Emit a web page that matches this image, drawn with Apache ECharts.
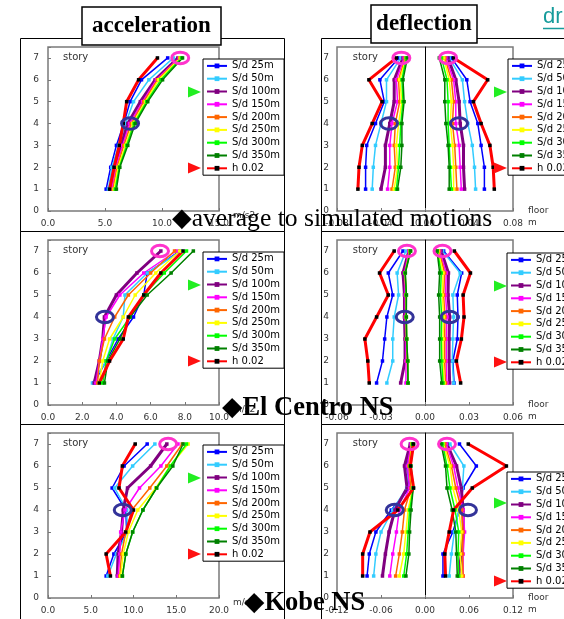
<!DOCTYPE html>
<html><head><meta charset="utf-8">
<script src="https://cdn.jsdelivr.net/npm/echarts@6/dist/echarts.min.js"></script>
<style>html,body{margin:0;padding:0;background:#fff}#c{width:564px;height:619px}</style>
</head><body><div id="c"></div>
<script>
// ---------- data ----------
const stories = [1, 2, 3, 4, 5, 6, 7];
const seriesNames = ['S/d 25m','S/d 50m','S/d 100m','S/d 150m','S/d 200m','S/d 250m','S/d 300m','S/d 350m','h 0.02'];

// acceleration (m/s2), story 1..7, order as seriesNames
const accAverage = [
  [5.1, 5.5, 6.0, 6.65, 7.2, 8.2, 10.5],
  [5.3, 5.6, 6.2, 6.8, 7.5, 8.85, 11.0],
  [5.5, 5.8, 6.4, 7.0, 8.1, 9.4, 11.4],
  [5.6, 5.95, 6.55, 7.15, 8.3, 9.5, 11.5],
  [5.7, 6.05, 6.65, 7.3, 8.4, 9.6, 11.55],
  [5.8, 6.15, 6.8, 7.45, 8.55, 9.7, 11.6],
  [5.9, 6.25, 6.9, 7.55, 8.65, 9.9, 11.7],
  [6.0, 6.3, 7.0, 7.65, 8.75, 10.05, 11.8],
  [5.4, 5.8, 6.25, 6.6, 6.9, 7.95, 9.6]
];
const accElCentro = [
  [2.7, 3.4, 4.1, 5.0, 5.6, 5.8, 7.7],
  [2.6, 3.4, 3.8, 4.4, 4.5, 5.8, 7.8],
  [2.7, 3.0, 3.2, 3.3, 4.0, 5.2, 6.6],
  [2.8, 3.0, 3.2, 3.4, 4.2, 5.6, 7.5],
  [2.9, 3.0, 3.3, 3.9, 4.7, 6.0, 7.4],
  [3.0, 3.2, 3.6, 4.4, 5.1, 6.3, 7.7],
  [3.2, 3.4, 3.9, 4.8, 5.6, 6.8, 8.1],
  [3.3, 3.5, 4.2, 4.8, 5.8, 7.2, 8.5],
  [3.0, 3.6, 4.4, 4.7, 5.6, 6.6, 7.9]
];
const accKobe = [
  [6.8, 7.7, 9.2, 9.1, 7.5, 8.9, 11.6],
  [7.0, 8.0, 9.3, 9.2, 7.8, 9.9, 12.5],
  [8.1, 8.2, 8.6, 8.8, 9.3, 12.0, 13.9],
  [8.2, 8.4, 8.5, 9.0, 10.7, 13.2, 15.2],
  [8.4, 8.6, 9.1, 9.8, 11.9, 13.9, 15.7],
  [8.5, 8.8, 9.4, 10.5, 12.6, 14.3, 16.4],
  [8.7, 9.1, 9.9, 11.1, 12.7, 14.3, 16.2],
  [8.7, 9.1, 9.9, 11.1, 12.7, 14.6, 15.8],
  [7.3, 6.8, 9.1, 10.0, 8.3, 8.7, 10.2]
];

// deflection (m), negative side and positive side, story 1..7
const defAverageNeg = [
  [-0.054, -0.054, -0.053, -0.045, -0.037, -0.041, -0.024],
  [-0.048, -0.047, -0.045, -0.040, -0.035, -0.035, -0.022],
  [-0.040, -0.036, -0.036, -0.032, -0.028, -0.028, -0.020],
  [-0.034, -0.032, -0.032, -0.030, -0.025, -0.026, -0.019],
  [-0.030, -0.027, -0.028, -0.027, -0.023, -0.024, -0.018],
  [-0.028, -0.025, -0.026, -0.024, -0.021, -0.023, -0.017],
  [-0.026, -0.024, -0.023, -0.022, -0.020, -0.021, -0.017],
  [-0.025, -0.022, -0.021, -0.021, -0.019, -0.020, -0.016],
  [-0.061, -0.060, -0.057, -0.048, -0.039, -0.051, -0.026]
];
const defAveragePos = [
  [0.054, 0.054, 0.051, 0.048, 0.041, 0.038, 0.024],
  [0.046, 0.045, 0.043, 0.039, 0.036, 0.034, 0.022],
  [0.036, 0.035, 0.035, 0.032, 0.031, 0.028, 0.021],
  [0.033, 0.032, 0.031, 0.028, 0.028, 0.026, 0.019],
  [0.029, 0.028, 0.027, 0.025, 0.026, 0.024, 0.018],
  [0.026, 0.026, 0.025, 0.023, 0.024, 0.022, 0.017],
  [0.024, 0.023, 0.022, 0.021, 0.021, 0.020, 0.015],
  [0.022, 0.022, 0.021, 0.019, 0.018, 0.018, 0.013],
  [0.063, 0.062, 0.059, 0.051, 0.044, 0.057, 0.026]
];
const defElCentroNeg = [
  [-0.033, -0.029, -0.0275, -0.026, -0.022, -0.025, -0.015],
  [-0.026, -0.022, -0.022, -0.021, -0.018, -0.019, -0.013],
  [-0.0166, -0.0136, -0.0136, -0.014, -0.014, -0.015, -0.011],
  [-0.013, -0.013, -0.013, -0.0135, -0.0135, -0.014, -0.011],
  [-0.0116, -0.012, -0.0127, -0.013, -0.013, -0.0136, -0.0105],
  [-0.0116, -0.0118, -0.0125, -0.0128, -0.0128, -0.0136, -0.010],
  [-0.0116, -0.0118, -0.0125, -0.0128, -0.0127, -0.0136, -0.010],
  [-0.0116, -0.0118, -0.0125, -0.0127, -0.0127, -0.0134, -0.0098],
  [-0.038, -0.039, -0.041, -0.033, -0.025, -0.031, -0.021]
];
const defElCentroPos = [
  [0.0198, 0.019, 0.022, 0.0225, 0.022, 0.025, 0.0127],
  [0.0195, 0.0186, 0.019, 0.0195, 0.019, 0.024, 0.012],
  [0.0168, 0.0164, 0.0164, 0.0168, 0.0157, 0.016, 0.011],
  [0.015, 0.0145, 0.0145, 0.015, 0.014, 0.0145, 0.010],
  [0.014, 0.0134, 0.0134, 0.0136, 0.0127, 0.0134, 0.0095],
  [0.013, 0.0123, 0.0123, 0.0127, 0.0118, 0.0123, 0.0089],
  [0.0123, 0.0114, 0.0111, 0.0114, 0.0105, 0.0111, 0.0084],
  [0.0114, 0.0100, 0.0100, 0.0100, 0.0093, 0.0100, 0.0082],
  [0.0243, 0.0214, 0.0248, 0.0266, 0.026, 0.031, 0.020]
];
const defKobeNeg = [
  [-0.079, -0.076, -0.067, -0.046, -0.021, -0.025, -0.018],
  [-0.070, -0.067, -0.060, -0.044, -0.025, -0.022, -0.019],
  [-0.058, -0.054, -0.049, -0.041, -0.0245, -0.028, -0.020],
  [-0.048, -0.044, -0.039, -0.035, -0.021, -0.024, -0.019],
  [-0.040, -0.035, -0.031, -0.028, -0.019, -0.022, -0.018],
  [-0.035, -0.029, -0.026, -0.023, -0.017, -0.021, -0.018],
  [-0.029, -0.025, -0.023, -0.021, -0.016, -0.020, -0.017],
  [-0.026, -0.022, -0.021, -0.019, -0.016, -0.019, -0.017],
  [-0.085, -0.085, -0.075, -0.037, -0.0155, -0.020, -0.0155]
];
const defKobePos = [
  [0.0245, 0.0245, 0.038, 0.047, 0.052, 0.070, 0.047],
  [0.033, 0.036, 0.040, 0.046, 0.051, 0.053, 0.034],
  [0.046, 0.0495, 0.052, 0.052, 0.0495, 0.043, 0.030],
  [0.052, 0.052, 0.054, 0.052, 0.045, 0.039, 0.029],
  [0.052, 0.051, 0.052, 0.050, 0.042, 0.036, 0.027],
  [0.050, 0.048, 0.050, 0.046, 0.038, 0.034, 0.025],
  [0.046, 0.045, 0.046, 0.041, 0.034, 0.030, 0.024],
  [0.044, 0.043, 0.042, 0.037, 0.030, 0.028, 0.022],
  [0.028, 0.027, 0.033, 0.039, 0.0645, 0.111, 0.059]
];

// axis ranges / ticks
const accMax = [15, 10, 20];
const accStep = [5, 2, 5];
const defMax = [0.08, 0.06, 0.12];
const defStep = [0.04, 0.03, 0.06];

// annotation ring anchors (grid index, x value, story)
const pinkRings = [[0, 11.6, 7], [1, 6.55, 7], [2, 14.05, 7], [3, -0.0215, 7], [3, 0.021, 7], [4, -0.0123, 7], [4, 0.0119, 7], [5, -0.021, 7], [5, 0.030, 7]];
const navyRings = [[0, 7.2, 4], [1, 3.33, 4], [2, 8.74, 4], [3, -0.0327, 4], [3, 0.0309, 4], [4, -0.0138, 4], [4, 0.0168, 4], [5, -0.0413, 4], [5, 0.0586, 4]];

// ---------- styles ----------
const lineColors = ['#0000ff', '#33ccff', '#800080', '#ff00ff', '#ff6600', '#ffff00', '#00ff00', '#008000', '#ff0000'];
const markColors = ['#0000ff', '#33ccff', '#800080', '#ff00ff', '#ff6600', '#ffff00', '#00ff00', '#008000', '#000000'];
const lineWidths = [1.5, 1.5, 3, 1.5, 1.5, 1.5, 1.5, 1.5, 3];

const accSets = [accAverage, accElCentro, accKobe];
const defSets = [[defAverageNeg, defAveragePos], [defElCentroNeg, defElCentroPos], [defKobeNeg, defKobePos]];

const rowTop = [47, 240, 433];
const rowHeight = [164, 165, 165];
const FONT = 'DejaVu Sans';
const labelStyle = { fontFamily: FONT, fontSize: 9, color: '#333' };

const grids = [], xAxes = [], yAxes = [], series = [];
for (let r = 0; r < 3; r++) {
  grids.push({ left: 48, top: rowTop[r], width: 171, height: rowHeight[r], show: true, borderColor: '#7a7a7a', borderWidth: 1.5, backgroundColor: '#fff' });
}
for (let r = 0; r < 3; r++) {
  grids.push({ left: 337, top: rowTop[r], width: 176, height: rowHeight[r], show: true, borderColor: '#7a7a7a', borderWidth: 1.5, backgroundColor: '#fff' });
}
const intLabel = v => (Math.abs(v - Math.round(v)) < 1e-6 ? String(Math.round(v)) : '');
for (let r = 0; r < 3; r++) {
  xAxes.push({ type: 'value', gridIndex: r, min: 0, max: accMax[r], interval: accStep[r],
    axisLine: { show: false }, splitLine: { show: false },
    axisTick: { show: true, inside: true, length: 3, lineStyle: { color: '#777' } },
    axisLabel: { ...labelStyle, margin: 8, formatter: v => v.toFixed(1) },
    name: 'm/s2', nameLocation: 'end', nameGap: 14,
    nameTextStyle: { fontFamily: FONT, fontSize: 9, color: '#333', align: 'left', verticalAlign: 'top', lineHeight: 10 } });
  yAxes.push({ type: 'value', gridIndex: r, min: 0, max: 7.5, interval: 1,
    axisLine: { show: false }, splitLine: { show: false },
    axisTick: { show: true, inside: true, length: 3, lineStyle: { color: '#777' } },
    axisLabel: { ...labelStyle, margin: 9, formatter: intLabel },
    name: 'story', nameLocation: 'end', nameGap: -10,
    nameTextStyle: { fontFamily: FONT, fontSize: 10, color: '#333', align: 'left', verticalAlign: 'middle', padding: [0, 0, 0, 15] } });
}
for (let r = 0; r < 3; r++) {
  xAxes.push({ type: 'value', gridIndex: 3 + r, min: -defMax[r], max: defMax[r], interval: defStep[r],
    axisLine: { show: false }, splitLine: { show: false },
    axisTick: { show: true, inside: true, length: 3, lineStyle: { color: '#777' } },
    axisLabel: { ...labelStyle, margin: 8, formatter: v => v.toFixed(2) },
    name: '\nfloor\nm', nameLocation: 'end', nameGap: 15,
    nameTextStyle: { fontFamily: FONT, fontSize: 9, color: '#333', align: 'left', verticalAlign: 'middle', lineHeight: 12 } });
  yAxes.push({ type: 'value', gridIndex: 3 + r, min: 0, max: 7.5, interval: 1,
    axisLine: { show: true, onZero: true, lineStyle: { color: '#000', width: 1 } }, splitLine: { show: false },
    axisTick: { show: false },
    axisLabel: { ...labelStyle, margin: 8, formatter: intLabel },
    name: 'story', nameLocation: 'end', nameGap: -10,
    nameTextStyle: { fontFamily: FONT, fontSize: 10, color: '#333', align: 'right', verticalAlign: 'middle', padding: [0, 47, 0, 0] } });
}

function makeSeries(i, axisIdx, vals) {
  return {
    type: 'line', name: seriesNames[i], xAxisIndex: axisIdx, yAxisIndex: axisIdx,
    data: stories.map((s, k) => [vals[k], s]),
    symbol: 'rect', symbolSize: 3.5, showSymbol: true,
    lineStyle: { color: lineColors[i], width: lineWidths[i] },
    itemStyle: { color: markColors[i] },
    emphasis: { disabled: true }, silent: true
  };
}
for (let r = 0; r < 3; r++) {
  for (let i = 0; i < 9; i++) series.push(makeSeries(i, r, accSets[r][i]));
}
for (let r = 0; r < 3; r++) {
  for (let i = 0; i < 9; i++) {
    series.push(makeSeries(i, 3 + r, defSets[r][0][i]));
    series.push(makeSeries(i, 3 + r, defSets[r][1][i]));
  }
}

function legendAt(left, top) {
  return { orient: 'vertical', left: left, top: top, data: seriesNames, selectedMode: false,
    backgroundColor: '#fff', borderColor: '#000', borderWidth: 1, borderRadius: 0,
    padding: [1, 4, 1, 3], itemWidth: 20, itemHeight: 6, itemGap: 1,
    textStyle: { fontFamily: FONT, fontSize: 10, color: '#000', lineHeight: 11.8 } };
}
const legends = [legendAt(203, 59), legendAt(203, 252), legendAt(203, 445),
                 legendAt(508, 59), legendAt(507, 253), legendAt(507, 472)];

// ---------- decorations ----------
const deco = [];
const frameStyle = { fill: 'none', stroke: '#000', lineWidth: 1 };
[[38.5, 193], [231.5, 193], [424.5, 200]].forEach(([y, h]) => {
  deco.push({ type: 'rect', shape: { x: 20.5, y: y, width: 264, height: h }, style: frameStyle, z: 0, silent: true });
  deco.push({ type: 'rect', shape: { x: 321.5, y: y, width: 260, height: h }, style: frameStyle, z: 0, silent: true });
});
deco.push({ type: 'rect', shape: { x: 82, y: 7, width: 139, height: 38 }, style: { fill: '#fff', stroke: '#000', lineWidth: 1.5 }, z: 20, silent: true });
deco.push({ type: 'text', x: 151.5, y: 26.5, z: 21, silent: true,
  style: { text: 'acceleration', fontFamily: '"Liberation Serif", "DejaVu Serif", serif', fontWeight: 'bold', fontSize: 23, fill: '#000', align: 'center', verticalAlign: 'middle' } });
deco.push({ type: 'rect', shape: { x: 371, y: 5, width: 106, height: 38 }, style: { fill: '#fff', stroke: '#000', lineWidth: 1.5 }, z: 20, silent: true });
deco.push({ type: 'text', x: 424, y: 24, z: 21, silent: true,
  style: { text: 'deflection', fontFamily: '"Liberation Serif", "DejaVu Serif", serif', fontWeight: 'bold', fontSize: 23, fill: '#000', align: 'center', verticalAlign: 'middle' } });
deco.push({ type: 'text', x: 543, y: 17, z: 21, silent: true,
  style: { text: 'dr', fontFamily: '"Liberation Sans", Arial, sans-serif', fontSize: 22, fill: '#169b9b', align: 'left', verticalAlign: 'middle' } });
deco.push({ type: 'line', shape: { x1: 543, y1: 28.5, x2: 564, y2: 28.5 }, style: { stroke: '#169b9b', lineWidth: 1.5 }, z: 21, silent: true });

deco.push({ type: 'text', x: 172, y: 219.5, z: 30, silent: true,
  style: { text: '\u25C6average to simulated motions', fontFamily: '"Liberation Serif", "DejaVu Serif", serif', fontSize: 25.6, fill: '#000', align: 'left', verticalAlign: 'middle' } });
deco.push({ type: 'text', x: 222, y: 408.5, z: 30, silent: true,
  style: { text: '\u25C6El Centro NS', fontFamily: '"Liberation Serif", "DejaVu Serif", serif', fontWeight: 'bold', fontSize: 26.5, fill: '#000', align: 'left', verticalAlign: 'middle' } });
deco.push({ type: 'text', x: 244, y: 603, z: 30, silent: true,
  style: { text: '\u25C6Kobe NS', fontFamily: '"Liberation Serif", "DejaVu Serif", serif', fontWeight: 'bold', fontSize: 26.5, fill: '#000', align: 'left', verticalAlign: 'middle' } });

function tri(x, y, color) {
  return { type: 'polygon', shape: { points: [[x, y - 5.5], [x, y + 5.5], [x + 13, y]] }, style: { fill: color }, z: 25, silent: true };
}
[92, 285, 478].forEach(y => deco.push(tri(188, y, '#22ee22')));
[168, 361, 554].forEach(y => deco.push(tri(188, y, '#ff1111')));
[92, 286, 503].forEach(y => deco.push(tri(494, y, '#22ee22')));
[168, 362, 581].forEach(y => deco.push(tri(494, y, '#ff1111')));

const chart = echarts.init(document.getElementById('c'), null, { renderer: 'canvas' });
chart.setOption({
  animation: false,
  backgroundColor: '#fff',
  grid: grids, xAxis: xAxes, yAxis: yAxes, legend: legends, series: series
});

const rings = [];
function addRing(a, color) {
  const p = chart.convertToPixel({ xAxisIndex: a[0], yAxisIndex: a[0] }, [a[1], a[2]]);
  rings.push({ type: 'ellipse', shape: { cx: p[0], cy: p[1], rx: 8.5, ry: 5.8 }, style: { fill: 'none', stroke: color, lineWidth: 3 }, z: 15, silent: true });
}
pinkRings.forEach(a => addRing(a, '#ff33cc'));
navyRings.forEach(a => addRing(a, '#333399'));

chart.setOption({ graphic: { elements: deco.concat(rings) } });
</script></body></html>
